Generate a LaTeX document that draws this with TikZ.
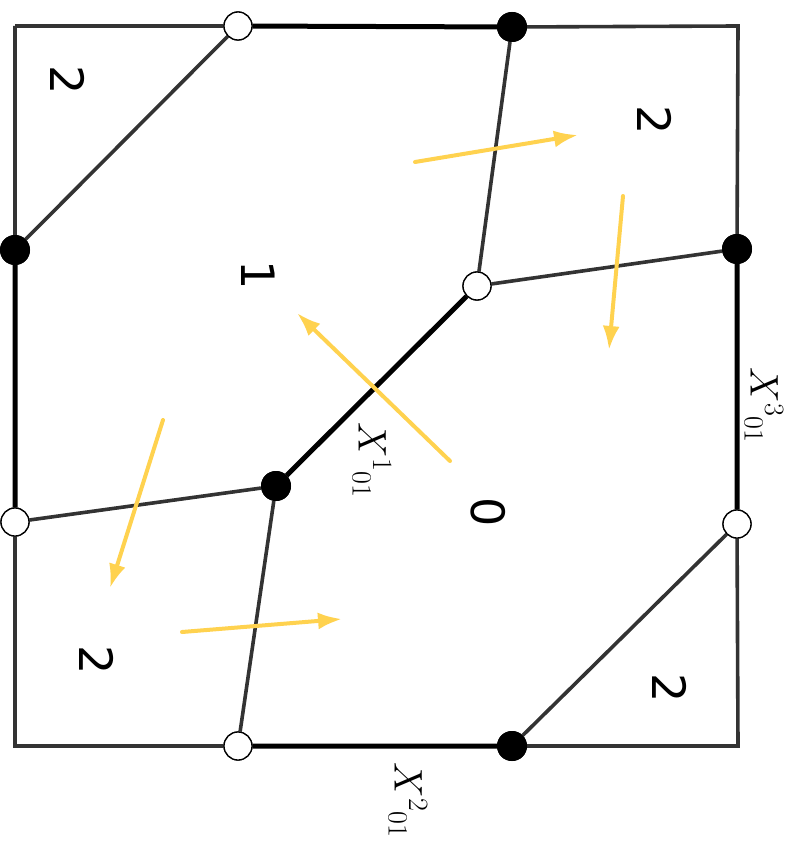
\RequirePackage{fix-cm}
\documentclass[tikz,border=0pt]{standalone}
\usepackage{fontspec}
\newfontfamily\regionfont{DejaVu Sans}
\usetikzlibrary{arrows.meta}
\definecolor{edgegray}{HTML}{333333}
\definecolor{flowyellow}{HTML}{FFD24F}
\begin{document}
\begin{tikzpicture}[x=1pt,y=-1pt,
  wall/.style={draw=edgegray,line width=3.6pt},
  seam/.style={draw=black,line width=5pt},
  flow/.style={draw=flowyellow,line width=4pt,line cap=round,-{Latex[length=24pt,width=17pt]}},
  wdot/.style={circle,draw=black,line width=1.3pt,fill=white,minimum size=28pt,inner sep=0pt},
  bdot/.style={circle,fill=black,minimum size=30pt,inner sep=0pt},
  region/.style={font=\regionfont\fontsize{46}{50}\selectfont,rotate=-90},
  label/.style={font=\fontsize{40}{44}\selectfont,rotate=-90}]
\useasboundingbox (0,0) rectangle (796,850);
% corners of the cell
\coordinate (tl) at (15,26);
\coordinate (tr) at (738,26);
\coordinate (br) at (738,746);
\coordinate (bl) at (15,746);
% vertices
\node[wdot] (t1) at (238,26) {};
\node[bdot] (t2) at (512,27) {};
\node[bdot] (l1) at (15,250) {};
\node[wdot] (l2) at (15,522) {};
\node[bdot] (r1) at (737,249) {};
\node[wdot] (r2) at (737,524) {};
\node[wdot] (b1) at (238,746) {};
\node[bdot] (b2) at (512,746) {};
\node[wdot] (c1) at (477,286) {};
\node[bdot] (c2) at (276,486) {};
% boundary
\path[wall] (tl) -- (t1) (t2) -- (tr) -- (r1) (r2) -- (br) -- (b2) (b1) -- (bl) -- (l2) (l1) -- (tl);
\path[seam] (t1) -- (t2) (r1) -- (r2) (b2) -- (b1) (l2) -- (l1);
% edges
\path[wall] (t1) -- (l1) (t2) -- (c1) (c1) -- (r1) (c2) -- (l2) (c2) -- (b1) (r2) -- (b2);
\path[seam] (c1) -- (c2);
% flow arrows
\coordinate (f1s) at (415,162); \coordinate (f1e) at (578,135);
\coordinate (f2s) at (623,196); \coordinate (f2e) at (609,350);
\coordinate (f3s) at (450,461); \coordinate (f3e) at (297,313);
\coordinate (f4s) at (163,420); \coordinate (f4e) at (110,588);
\coordinate (f5s) at (182,632); \coordinate (f5e) at (342,619);
\draw[flow] (f1s) -- (f1e);
\draw[flow] (f2s) -- (f2e);
\draw[flow] (f3s) -- (f3e);
\draw[flow] (f4s) -- (f4e);
\draw[flow] (f5s) -- (f5e);
% vertices on top
\foreach \v in {t1,l2,r2,b1,c1} \node[wdot] at (\v) {};
\foreach \v in {t2,l1,r1,b2,c2} \node[bdot] at (\v) {};
% labels
\node[region] (n2a) at (68,80) {2};
\node[region] (n2b) at (655,120) {2};
\node[region] (n2c) at (97,660) {2};
\node[region] (n2d) at (670,688) {2};
\node[region] (n1) at (258,275) {1};
\node[region] (n0) at (488,512) {0};
\node[label] (x1) at (372,460) {$X^{1}{}_{01}$};
\node[label] (x2) at (408,800) {$X^{2}{}_{01}$};
\node[label] (x3) at (764,405) {$X^{3}{}_{01}$};
\end{tikzpicture}
\end{document}
